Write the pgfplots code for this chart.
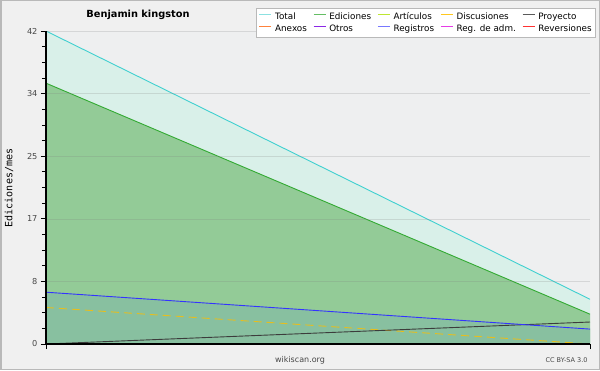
\documentclass[border=0pt]{standalone}
\usepackage{pgfplots}
\pgfplotsset{compat=1.18}
\usepackage{fontspec}
\setmainfont{DejaVu Sans}
\newfontfamily\monofont{DejaVu Sans Mono}
\definecolor{bgout}{RGB}{240,240,240}
\definecolor{bgplot}{RGB}{238,239,240}
\definecolor{bordergray}{RGB}{185,185,185}
\definecolor{totalfill}{RGB}{217,240,233}
\definecolor{totalline}{RGB}{64,208,208}
\definecolor{edfill}{RGB}{147,203,151}
\definecolor{edline}{RGB}{51,170,51}
\definecolor{regfill}{RGB}{136,192,160}
\definecolor{regline}{RGB}{51,51,255}
\definecolor{discline}{RGB}{230,190,30}
\definecolor{proyline}{RGB}{60,60,60}
\definecolor{lgtotal}{RGB}{140,225,225}
\definecolor{lged}{RGB}{100,190,100}
\definecolor{lgart}{RGB}{190,230,50}
\definecolor{lgdisc}{RGB}{255,200,30}
\definecolor{lgproy}{RGB}{90,90,90}
\definecolor{lganex}{RGB}{255,130,60}
\definecolor{lgotros}{RGB}{140,40,230}
\definecolor{lgreg}{RGB}{120,120,255}
\definecolor{lgadm}{RGB}{230,60,230}
\definecolor{lgrev}{RGB}{255,50,50}
\definecolor{ticktext}{RGB}{70,70,70}
\begin{document}
\begin{tikzpicture}
\useasboundingbox (0pt,0pt) rectangle (600pt,370pt);
\fill[bgout] (0pt,0pt) rectangle (600pt,370pt);
\draw[bordergray, line width=1.5pt] (0.75pt,0.75pt) rectangle (599.25pt,369.25pt);
\begin{axis}[
  at={(46pt,26pt)}, anchor=south west,
  scale only axis, width=544pt, height=313pt,
  xmin=0, xmax=1, ymin=0, ymax=42,
  axis background/.style={fill=bgplot},
  axis x line*=bottom, axis y line*=left,
  axis line style={black, line width=1.2pt, -},
  axis on top,
  xtick={0,1}, xticklabels={},
  ytick={0,8.4,16.8,25.2,33.6,42},
  yticklabels={0,8,17,25,34,42},
  minor y tick num=3,
  tick align=outside,
  major tick length=5pt, minor tick length=4pt,
  tick style={black, line width=0.8pt},
  ymajorgrids,
  major grid style={gray, line width=0.6pt, opacity=0.22},
  ticklabel style={font=\fontsize{8.2}{9}\selectfont, text=ticktext},
  /pgf/number format/assume math mode=true,
  legend columns=5,
  legend cell align=left,
  legend style={at={(1.011,1.072)}, anchor=north east,
    draw=bordergray, fill=white, line width=0.6pt,
    font=\fontsize{8.8}{9}\selectfont, inner sep=2pt,
    row sep=-0.5pt,
    /tikz/every even column/.append style={column sep=4pt},
    /tikz/every odd column/.append style={column sep=1pt}},
  legend image code/.code={\draw[#1, solid, line width=1.4pt, opacity=1] (0pt,2.5pt) -- (12pt,2.5pt);},
]
% fills
\addplot[draw=none, fill=totalfill, forget plot] coordinates {(0,42) (1,6)} \closedcycle;
\addplot[draw=none, fill=edfill, forget plot] coordinates {(0,35) (1,4)} \closedcycle;
\addplot[draw=none, fill=regfill, forget plot] coordinates {(0,6.95) (1,2)} \closedcycle;
% lines
\addplot[totalline, line width=0.9pt, forget plot] coordinates {(0,42) (1,6)};
\addplot[edline, line width=0.9pt, forget plot] coordinates {(0,35) (1,4)};
\addplot[discline, line width=0.9pt, dash pattern=on 8pt off 5pt, forget plot] coordinates {(0,4.9) (1,0)};
\addplot[proyline, line width=0.9pt, forget plot] coordinates {(0,0) (1,2.95)};
\addplot[regline, line width=0.9pt, forget plot] coordinates {(0,6.95) (1,2)};
% legend
\addlegendimage{lgtotal}\addlegendentry{Total}
\addlegendimage{lged}\addlegendentry{Ediciones}
\addlegendimage{lgart}\addlegendentry{Artículos}
\addlegendimage{lgdisc}\addlegendentry{Discusiones}
\addlegendimage{lgproy}\addlegendentry{Proyecto}
\addlegendimage{lganex}\addlegendentry{Anexos}
\addlegendimage{lgotros}\addlegendentry{Otros}
\addlegendimage{lgreg}\addlegendentry{Registros}
\addlegendimage{lgadm}\addlegendentry{Reg. de adm.}
\addlegendimage{lgrev}\addlegendentry{Reversiones}
\end{axis}
\node[anchor=base, font=\bfseries\fontsize{9.8}{11}\selectfont] at (138pt,352.5pt) {Benjamin kingston};
\node[rotate=90, font=\monofont\fontsize{10}{12}\selectfont] at (9pt,182pt) {Ediciones/mes};
\node[font=\fontsize{8}{9}\selectfont, text=ticktext] at (300pt,10pt) {wikiscan.org};
\node[anchor=east, font=\fontsize{6.5}{7}\selectfont, text=ticktext] at (591pt,10pt) {CC BY-SA 3.0};
\end{tikzpicture}
\end{document}
